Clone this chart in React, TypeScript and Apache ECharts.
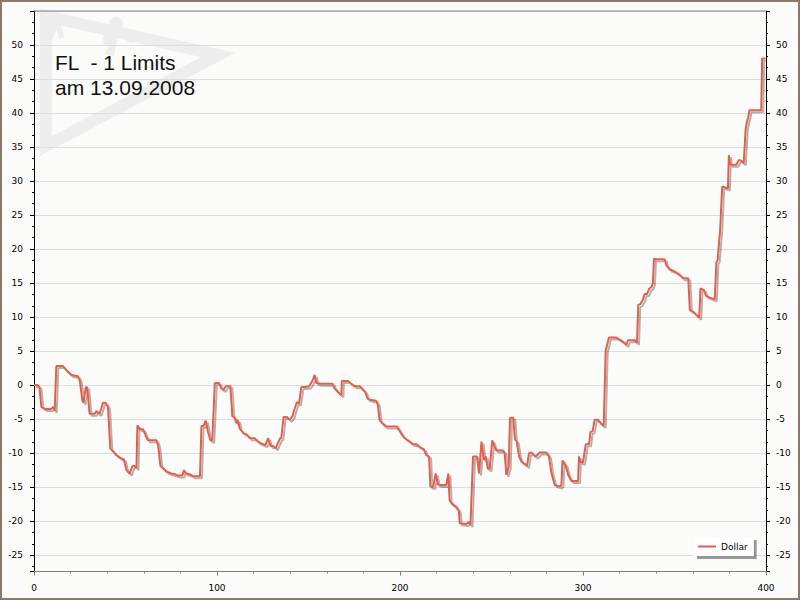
import React, { useEffect, useRef } from "react";
import * as echarts from "echarts";

const seriesName = "Dollar";
const titleLines = ["FL  - 1 Limits", "am 13.09.2008"];

const xValues = [
  0, 2, 3, 4, 6, 9.5, 10.4, 11.3, 12.2, 15.8, 17.7, 20.4, 24, 25, 26.4, 27, 28.3, 29, 30.4, 33.2,
  34.1, 35.2, 36, 37.7, 39.1, 40.4, 41.7, 43.1, 45, 47.8, 49.1, 50.5, 52.3, 53.8, 55, 56, 56.5, 57.8,
  59.6, 61, 62.3, 66.9, 67.9, 69.1, 70.5, 72.3, 75.1, 77, 78.7, 81, 82, 83, 85, 87, 90.7, 91.5, 92.7,
  93.8, 95.1, 96.4, 97.4, 98.8, 101.1, 102.4, 103.6, 104.8, 107.3, 108.4, 109.6, 110.6, 111.5, 112.4,
  113.3, 114.6, 116, 117.9, 120.6, 122.4, 125.1, 126.5, 127.9, 129.2, 131, 132.1, 133.3, 134.6, 135.1,
  136.4, 138.3, 139.7, 141.2, 142.5, 143.7, 144.8, 146.1, 150.3, 152.1, 153.4, 154.3, 156.2, 163.1,
  164.3, 166.1, 168, 168.2, 171.6, 173.4, 175.2, 178, 179.5, 181, 182.3, 184.3, 187, 187.9, 188.8,
  190.3, 192.6, 198.3, 201.8, 203.6, 205.3, 207.1, 209, 210.8, 213, 214.4, 215.9, 216.6, 218.1, 219.5,
  220.7, 222.2, 225.3, 226.4, 227.1, 228.6, 230.8, 232.2, 232.6, 236.3, 237.8, 238.5, 239.9, 242.1,
  243.2, 244.5, 245.8, 246.9, 248, 249, 250.4, 251.7, 252.6, 256.3, 257.2, 258.1, 259.4, 260.1, 261.9,
  262.8, 263.7, 265.1, 266.5, 268.3, 269.4, 270.5, 271.8, 273.1, 274.2, 276.4, 280, 281.4, 282.8,
  284.6, 287.3, 288.2, 288.8, 290.6, 291.9, 293.7, 297.3, 297.8, 298.5, 300, 301.5, 303.3, 304.1,
  305.2, 306.4, 308.2, 310, 311.3, 312.4, 314.2, 318.2, 320, 321.8, 323.7, 324.6, 328.3, 329.5, 330.2,
  331.3, 332.8, 333.7, 335, 336.2, 337.4, 338.2, 338.8, 340, 344.6, 345.6, 347.4, 350.1, 352.9, 354.7,
  357.5, 358.4, 360.2, 362, 363.5, 364.2, 366, 367.3, 369.1, 372, 372.9, 373.6, 374.2, 375, 375.6,
  376.1, 379.2, 379.7, 380.4, 383.8, 385.2, 386.5, 387.8, 388.9, 389.6, 390.2, 391, 397.4, 397.9, 399.7,
];

const yValues = [
  0, 0, -0.3, -3.2, -3.5, -3.5, -3.2, -3.8, 2.8, 2.8, 2.2, 1.5, 1.3, 0.7, -2.2, -2.6, -0.3, -0.3, -4.2, -4.2,
  -3.8, -4.2, -4.1, -2.6, -2.6, -3.2, -9.3, -9.7, -10.3, -10.8, -10.9, -12.5, -13.0, -11.9, -11.9, -12.2, -5.9, -6.5,
  -6.5, -7.4, -8.1, -8.1, -9.0, -11.9, -12.2, -12.7, -13.0, -13.1, -13.3, -13.3, -12.5, -13.0, -13.1, -13.4, -13.4, -6.0, -6.0,
  -5.2, -6.9, -8.1, -8.2, 0.3, 0.3, -0.5, -0.7, -0.15, -0.15, -4.6, -4.7, -5.6, -5.2, -6.4,
  -6.7, -7.1, -7.2, -7.8, -7.8, -8.3, -8.7, -8.8, -7.8, -8.9, -9.0, -9.3, -8.5, -7.8, -7.8,
  -4.7, -4.7, -5.1, -4.6, -3.4, -2.5, -2.7, -0.3, -0.2, 0.6, 1.5, 0.3, 0.2, 0.2,
  -0.5, -1.0, -1.5, 0.6, 0.6, 0.2, -0.15, -0.15, -0.6, -1.0, -2.0, -2.2, -2.3, -2.9, -5.1,
  -5.6, -6.1, -6.1, -7.6, -8.0, -8.3, -8.7, -8.7, -9.1, -9.4, -10.3, -10.5, -14.9, -15.0, -13.0,
  -14.6, -14.7, -14.7, -13.0, -16.9, -17.5, -17.9, -18.6, -20.3, -20.4, -20.1, -20.6, -10.5, -10.5,
  -13.0, -8.3, -11.0, -10.5, -12.3, -12.3, -8.1, -9.1, -9.6, -9.6, -10.0, -13.2, -12.0, -4.8, -4.8,
  -8.0, -8.2, -10.5, -11.3, -11.6, -11.9, -10.0, -9.9, -10.3, -10.5, -9.9, -9.9, -10.5, -13.0,
  -14.7, -14.9, -14.7, -11.1, -11.9, -13.2, -14.1, -14.1, -10.5, -11.3, -11.4, -8.7, -8.7, -6.9,
  -6.8, -5.1, -5.1, -5.7, -6.0, 5.1, 7.0, 7.0, 6.7, 6.4, 5.9, 6.6, 6.6, 6.2, 11.8,
  11.9, 12.6, 13.4, 13.4, 14.2, 14.4, 15.0, 18.6, 18.5, 18.5, 17.6, 17.0, 16.7, 16.2, 15.7,
  15.7, 11.0, 10.8, 10.3, 9.9, 14.2, 14.0, 13.1, 12.9, 12.6, 18.1, 18.4, 20.5, 23.0, 26.7,
  29.2, 28.9, 33.8, 32.4, 32.4, 33.1, 33.0, 32.6, 37.7, 38.7, 39.3, 40.4, 40.4, 48.0, 48.0,
];

const xAxisMin = 0;
const xAxisMax = 400;
const xAxisStep = 100;
const yAxisMin = -27.4;
const yAxisMax = 55;
const yAxisStep = 5;

const FONT = "DejaVu Sans";

export default function App() {
  const ref = useRef<HTMLDivElement>(null);

  useEffect(() => {
    if (!ref.current) return;
    const chart = echarts.init(ref.current, undefined, { renderer: "svg" });
    const data = xValues.map((x, i) => [x, yValues[i]]);

    const yAxisCommon = {
      type: "value",
      min: yAxisMin,
      max: yAxisMax,
      splitNumber: 16,
      minInterval: yAxisStep,
      maxInterval: yAxisStep,
      axisLine: { show: true, onZero: false, lineStyle: { color: "#000", width: 1 } },
      axisTick: { show: true, inside: false, length: 4, lineStyle: { color: "#000" } },
      minorTick: { show: true, splitNumber: 3, length: 2, lineStyle: { color: "#000" } },
      axisLabel: {
        showMinLabel: false,
        showMaxLabel: false,
        color: "#000",
        fontFamily: FONT,
        fontSize: 9,
      },
    };

    chart.setOption({
      animation: false,
      backgroundColor: "#FBFCFA",
      grid: { left: 34, right: 34, top: 11, bottom: 28.5, containLabel: false, show: false },
      xAxis: {
        type: "value",
        min: xAxisMin,
        max: xAxisMax,
        interval: xAxisStep,
        axisLine: { show: true, onZero: false, lineStyle: { color: "#808080", width: 1 } },
        axisTick: { show: true, length: 4, lineStyle: { color: "#808080" } },
        minorTick: { show: true, splitNumber: 5, length: 2, lineStyle: { color: "#808080" } },
        splitLine: { show: false },
        axisLabel: { color: "#000", fontFamily: FONT, fontSize: 9, margin: 12 },
      },
      yAxis: [
        {
          ...yAxisCommon,
          position: "left",
          axisLabel: { ...yAxisCommon.axisLabel, margin: 11 },
          splitLine: { show: true, lineStyle: { color: "#DCDCE2", width: 1 } },
        },
        {
          ...yAxisCommon,
          position: "right",
          axisLabel: { ...yAxisCommon.axisLabel, margin: 10 },
          splitLine: { show: false },
        },
      ],
      legend: {
        data: [seriesName],
        left: 694,
        top: 537,
        icon: "rect",
        itemWidth: 18,
        itemHeight: 2,
        itemGap: 4,
        padding: [5, 6, 5, 4],
        backgroundColor: "#FFFFFF",
        shadowColor: "rgba(0,0,0,0.4)",
        shadowBlur: 1,
        shadowOffsetX: 3,
        shadowOffsetY: 3,
        textStyle: { color: "#000", fontFamily: FONT, fontSize: 9 },
      },
      graphic: [
        {
          type: "polygon",
          z: -5,
          silent: true,
          shape: { points: [[46, 16], [218, 55], [46, 146]] },
          style: { fill: "none", stroke: "#EDEDED", lineWidth: 12, lineJoin: "miter" },
        },
        { type: "circle", z: -5, silent: true, shape: { cx: 116, cy: 24, r: 7 }, style: { fill: "#EDEDED" } },
        { type: "circle", z: -5, silent: true, shape: { cx: 132, cy: 36, r: 7 }, style: { fill: "#EDEDED" } },
        { type: "circle", z: -5, silent: true, shape: { cx: 110, cy: 40, r: 7 }, style: { fill: "#EDEDED" } },
        {
          type: "polygon",
          z: -5,
          silent: true,
          shape: { points: [[118, 34], [104, 54], [114, 56]] },
          style: { fill: "#EDEDED" },
        },
        {
          type: "polyline",
          z: -5,
          silent: true,
          shape: { points: [[50, 38], [56, 20], [62, 38]] },
          style: { stroke: "#EDEDED", lineWidth: 6, fill: "none" },
        },
        {
          type: "text",
          z: 10,
          silent: true,
          x: 55,
          y: 62.7,
          style: {
            text: titleLines[0],
            fill: "#111",
            font: '21px "Liberation Sans"',
            verticalAlign: "middle",
          },
        },
        {
          type: "text",
          z: 10,
          silent: true,
          x: 55,
          y: 87,
          style: {
            text: titleLines[1],
            fill: "#111",
            font: '21px "Liberation Sans"',
            verticalAlign: "middle",
          },
        },
        {
          type: "rect",
          z: 100,
          silent: true,
          shape: { x: 1, y: 1, width: 798, height: 598 },
          style: { fill: "none", stroke: "#8C7A68", lineWidth: 2 },
        },
        {
          type: "line",
          z: 5,
          silent: true,
          shape: { x1: 34, y1: 11, x2: 766, y2: 11 },
          style: { stroke: "#808080", lineWidth: 1 },
        },
      ],
      series: [
        {
          name: seriesName,
          type: "line",
          yAxisIndex: 0,
          data,
          showSymbol: false,
          symbol: "none",
          lineStyle: {
            color: "#E35F4A",
            width: 2,
            shadowColor: "rgba(0,0,0,0.3)",
            shadowBlur: 1,
            shadowOffsetX: 2,
            shadowOffsetY: 2,
          },
          itemStyle: { color: "#E35F4A" },
        },
      ],
    });

    return () => chart.dispose();
  }, []);

  return (
    <div
      ref={ref}
      style={{ position: "fixed", left: 0, top: 0, width: 800, height: 600 }}
    />
  );
}
